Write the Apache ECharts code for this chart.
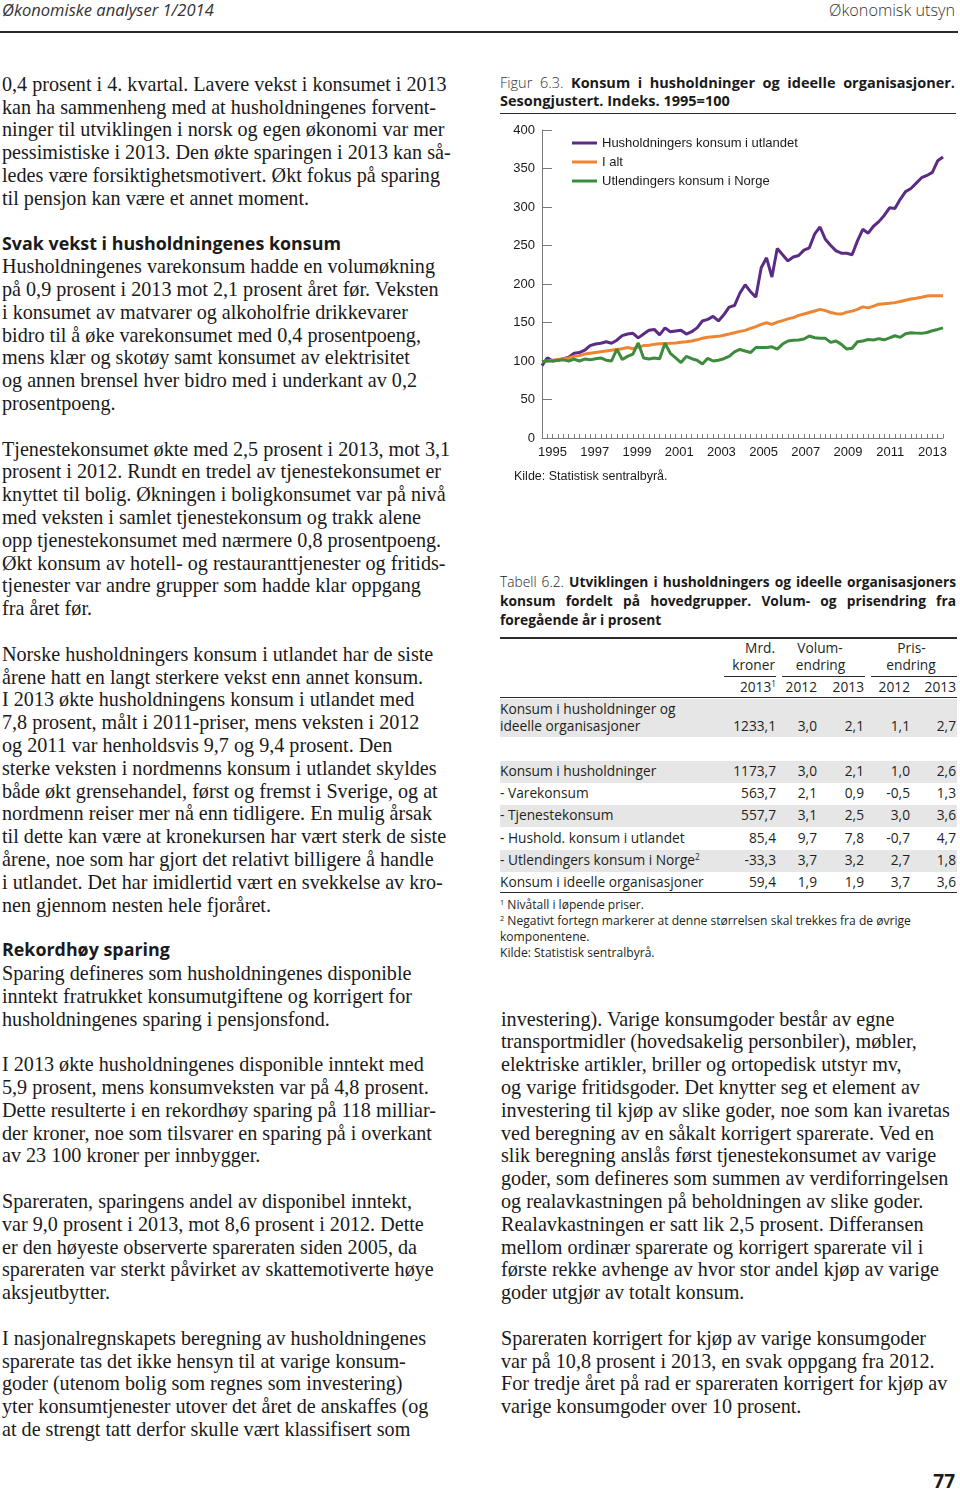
<!DOCTYPE html>
<html>
<head>
<meta charset="utf-8">
<script src="https://cdn.jsdelivr.net/npm/echarts@6/dist/echarts.min.js"></script>
<style>
html,body{margin:0;padding:0;background:#fff;}
body{width:960px;height:1493px;position:relative;overflow:hidden;color:#1a1a1a;}
.t{position:absolute;white-space:nowrap;line-height:1;}
.rule{position:absolute;background:#2b2b2b;}
.shade{position:absolute;background:#e6e6e6;}
sup{font-size:60%;vertical-align:0.55em;line-height:0;}
#chart{position:absolute;left:500px;top:115px;width:460px;height:375px;}
</style>
</head>
<body>
<div id="chart"></div>
<script>
// ---------------- DATA ----------------
const years = ['1995','1996','1997','1998','1999','2000','2001','2002','2003','2004','2005','2006','2007','2008','2009','2010','2011','2012','2013'];
const seriesNames = ['Husholdningers konsum i utlandet','I alt','Utlendingers konsum i Norge'];
const utlandet = [94,104,100,101,103,105,110,111,114,120,122,123,125,123,127,133,135,136,130,135,
  140,141,134,143,138,139,140,135,138,143,152,154,158,152,160,170,172,188,199,190,
  183,221,234,209,246,238,230,235,237,244,247,265,274,258,250,243,240,240,238,256,
  271,266,275,281,289,299,298,310,320,324,331,338,341,345,360,365];
const iAlt = [99,100,101,102,103,104,106,107,109,110,111,112,113,114,115,116,117.5,116,118,120,
  120.5,121.6,122.3,122.7,123,123.5,124.3,125,126,127.5,129.5,130.8,131.5,132,133.5,135,136.7,138.5,139.8,142.3,
  144.7,147.5,149.6,147.5,150.5,152.5,154.7,156.3,159.2,161,163,165,167,165.4,163,161.5,160.9,163.5,164.8,167,
  170.3,169,171.2,173.8,174.5,175,175.8,177.3,179,180.6,181.6,182.9,184.5,184.6,184.6,184.6];
const utlendinger = [99,100,100,101,101.5,100,102.5,100,102.5,101.5,103,104,101,100,115.5,102,106,109,123.5,104,
  102.5,104,103,123,110,104,98,106,103,101,96,103.5,100,101,103,106,112,115,113,111,
  117.5,117.5,117.5,118.5,115.5,122,126,127,127.2,128.5,132.4,130.2,129.5,129.4,124.2,125.9,121.6,115.5,116.5,125,
  126,128,127.2,129,127.5,130,132.8,130.7,135.5,136.7,136.2,135.9,137,139.3,141,143];

// table data
const tabLabels = ['Konsum i husholdninger','- Varekonsum','- Tjenestekonsum','- Hushold. konsum i utlandet','- Utlendingers konsum i Norge<sup>2</sup>','Konsum i ideelle organisasjoner'];
const tabTotal = ['1233,1','3,0','2,1','1,1','2,7'];
const tabMrd   = ['1173,7','563,7','557,7','85,4','-33,3','59,4'];
const tabVol12 = ['3,0','2,1','3,1','9,7','3,7','1,9'];
const tabVol13 = ['2,1','0,9','2,5','7,8','3,2','1,9'];
const tabPri12 = ['1,0','-0,5','3,0','-0,7','2,7','3,7'];
const tabPri13 = ['2,6','1,3','3,6','4,7','1,8','3,6'];

// ---------------- TEXT ----------------
const leftLines = [
'0,4 prosent i 4. kvartal. Lavere vekst i konsumet i 2013',
'kan ha sammenheng med at husholdningenes forvent-',
'ninger til utviklingen i norsk og egen økonomi var mer',
'pessimistiske i 2013. Den økte sparingen i 2013 kan så-',
'ledes være forsiktighetsmotivert. Økt fokus på sparing',
'til pensjon kan være et annet moment.',
'',
'#Svak vekst i husholdningenes konsum',
'Husholdningenes varekonsum hadde en volumøkning',
'på 0,9 prosent i 2013 mot 2,1 prosent året før. Veksten',
'i konsumet av matvarer og alkoholfrie drikkevarer',
'bidro til å øke varekonsumet med 0,4 prosentpoeng,',
'mens klær og skotøy samt konsumet av elektrisitet',
'og annen brensel hver bidro med i underkant av 0,2',
'prosentpoeng.',
'',
'Tjenestekonsumet økte med 2,5 prosent i 2013, mot 3,1',
'prosent i 2012. Rundt en tredel av tjenestekonsumet er',
'knyttet til bolig. Økningen i boligkonsumet var på nivå',
'med veksten i samlet tjenestekonsum og trakk alene',
'opp tjenestekonsumet med nærmere 0,8 prosentpoeng.',
'Økt konsum av hotell- og restauranttjenester og fritids-',
'tjenester var andre grupper som hadde klar oppgang',
'fra året før.',
'',
'Norske husholdningers konsum i utlandet har de siste',
'årene hatt en langt sterkere vekst enn annet konsum.',
'I 2013 økte husholdningens konsum i utlandet med',
'7,8 prosent, målt i 2011-priser, mens veksten i 2012',
'og 2011 var henholdsvis 9,7 og 9,4 prosent. Den',
'sterke veksten i nordmenns konsum i utlandet skyldes',
'både økt grensehandel, først og fremst i Sverige, og at',
'nordmenn reiser mer nå enn tidligere. En mulig årsak',
'til dette kan være at kronekursen har vært sterk de siste',
'årene, noe som har gjort det relativt billigere å handle',
'i utlandet. Det har imidlertid vært en svekkelse av kro-',
'nen gjennom nesten hele fjoråret.',
'',
'#Rekordhøy sparing',
'Sparing defineres som husholdningenes disponible',
'inntekt fratrukket konsumutgiftene og korrigert for',
'husholdningenes sparing i pensjonsfond.',
'',
'I 2013 økte husholdningenes disponible inntekt med',
'5,9 prosent, mens konsumveksten var på 4,8 prosent.',
'Dette resulterte i en rekordhøy sparing på 118 milliar-',
'der kroner, noe som tilsvarer en sparing på i overkant',
'av 23 100 kroner per innbygger.',
'',
'Spareraten, sparingens andel av disponibel inntekt,',
'var 9,0 prosent i 2013, mot 8,6 prosent i 2012. Dette',
'er den høyeste observerte spareraten siden 2005, da',
'spareraten var sterkt påvirket av skattemotiverte høye',
'aksjeutbytter.',
'',
'I nasjonalregnskapets beregning av husholdningenes',
'sparerate tas det ikke hensyn til at varige konsum-',
'goder (utenom bolig som regnes som investering)',
'yter konsumtjenester utover det året de anskaffes (og',
'at de strengt tatt derfor skulle vært klassifisert som'
];
const rightLines = [
'investering). Varige konsumgoder består av egne',
'transportmidler (hovedsakelig personbiler), møbler,',
'elektriske artikler, briller og ortopedisk utstyr mv,',
'og varige fritidsgoder. Det knytter seg et element av',
'investering til kjøp av slike goder, noe som kan ivaretas',
'ved beregning av en såkalt korrigert sparerate. Ved en',
'slik beregning anslås først tjenestekonsumet av varige',
'goder, som defineres som summen av verdiforringelsen',
'og realavkastningen på beholdningen av slike goder.',
'Realavkastningen er satt lik 2,5 prosent. Differansen',
'mellom ordinær sparerate og korrigert sparerate vil i',
'første rekke avhenge av hvor stor andel kjøp av varige',
'goder utgjør av totalt konsum.',
'',
'Spareraten korrigert for kjøp av varige konsumgoder',
'var på 10,8 prosent i 2013, en svak oppgang fra 2012.',
'For tredje året på rad er spareraten korrigert for kjøp av',
'varige konsumgoder over 10 prosent.'
];

// ---------------- HELPERS ----------------
const ctx = document.createElement('canvas').getContext('2d');
function fit(text, font, target){ ctx.font = font.replace('{s}','100'); return 100*target/ctx.measureText(text).width; }
const SERIF = '"Liberation Serif", serif', SANS = '"Open Sans", sans-serif', ARIAL = '"Liberation Sans", Arial, sans-serif';
function txt(html, o){
  const d = document.createElement('div'); d.className='t'; d.innerHTML = html;
  const s = o.size;
  d.style.fontSize = s+'px'; d.style.fontFamily = o.font || SANS;
  if(o.weight) d.style.fontWeight = o.weight;
  if(o.italic) d.style.fontStyle = 'italic';
  if(o.color) d.style.color = o.color;
  d.style.top = (o.y - 0.56*s)+'px';
  if(o.right!==undefined){ d.style.right = (960-o.right)+'px'; d.style.textAlign='right'; }
  else if(o.center!==undefined){ d.style.left=(o.center-100)+'px'; d.style.width='200px'; d.style.textAlign='center'; }
  else d.style.left = o.x+'px';
  if(o.width){ d.style.width=o.width+'px'; d.style.whiteSpace='normal'; d.style.textAlign='justify'; d.style.textAlignLast='justify'; d.style.height=(s*1.05)+'px'; d.style.overflow='visible'; }
  document.body.appendChild(d); return d;
}
function rule(x,y,w,h){ const d=document.createElement('div'); d.className='rule'; d.style.left=x+'px'; d.style.top=y+'px'; d.style.width=w+'px'; d.style.height=h+'px'; document.body.appendChild(d); }
function shade(x,y,w,h){ const d=document.createElement('div'); d.className='shade'; d.style.left=x+'px'; d.style.top=y+'px'; d.style.width=w+'px'; d.style.height=h+'px'; document.body.appendChild(d); }

// ---------------- PAGE HEADER ----------------
const hs = fit('Økonomiske analyser 1/2014', 'italic 400 {s}px "Open Sans"', 212);
txt('Økonomiske analyser 1/2014', {x:2, y:11, size:hs, italic:true, weight:400, color:'#333'});
const hs2 = fit('Økonomisk utsyn', '300 {s}px "Open Sans"', 126);
txt('Økonomisk utsyn', {right:955, y:11, size:hs2, weight:300, color:'#333'});
rule(0,31,958,2);

// ---------------- BODY TEXT ----------------
const bodySize = fit(leftLines[0], '400 {s}px "Liberation Serif"', 445);
const headSize = fit('Svak vekst i husholdningenes konsum', '700 {s}px "Open Sans"', 339);
const LH = 22.8, Y0 = 84;
leftLines.forEach((l,k)=>{
  if(!l) return;
  if(l[0]==='#') txt(l.slice(1), {x:2, y:Y0+k*LH+1, size:headSize, weight:700, font:SANS, color:'#1a1a1a'});
  else txt(l, {x:2, y:Y0+k*LH+1, size:bodySize, font:SERIF, color:'#1a1a1a'});
});
rightLines.forEach((l,k)=>{
  if(!l) return;
  txt(l, {x:501, y:Y0+(41+k)*LH+1, size:bodySize, font:SERIF, color:'#1a1a1a'});
});

// ---------------- FIGURE CAPTION ----------------
const capSize = fit('Sesongjustert. Indeks. 1995=100', '700 {s}px "Open Sans"', 230);
txt('<span style="font-weight:300;color:#333">Figur 6.3.</span> <b>Konsum i husholdninger og ideelle organisasjoner.</b>', {x:500, y:83, size:capSize, width:455});
txt('<b>Sesongjustert. Indeks. 1995=100</b>', {x:500, y:101, size:capSize});
rule(500,113,456,1);
txt('Kilde: Statistisk sentralbyrå.', {x:514, y:477, size:12.5, font:ARIAL, color:'#1a1a1a'});

// ---------------- TABLE ----------------
const tcap = fit('Tabell 6.2. Utviklingen i husholdningers og ideelle organisasjoners', '700 {s}px "Open Sans"', 452);
txt('<span style="font-weight:300">Tabell 6.2.</span> <b>Utviklingen i husholdningers og ideelle organisasjoners</b>', {x:500, y:583, size:tcap, width:456});
txt('<b>konsum fordelt på hovedgrupper. Volum- og prisendring fra</b>', {x:500, y:602, size:tcap, width:456});
txt('<b>foregående år i prosent</b>', {x:500, y:621, size:tcap});
rule(500,637,457,1.5);
const ts = fit('Konsum i ideelle organisasjoner', '400 {s}px "Open Sans"', 204);
const TC = '#231f20';
const colR = [776, 817, 864, 910, 956];
txt('Mrd.', {right:775, y:649, size:ts, color:TC});
txt('kroner', {right:775, y:666, size:ts, color:TC});
txt('Volum-', {center:820, y:649, size:ts, color:TC});
txt('endring', {center:820.5, y:666, size:ts, color:TC});
txt('Pris-', {center:911.5, y:649, size:ts, color:TC});
txt('endring', {center:911, y:666, size:ts, color:TC});
rule(724,676,52,1); rule(782,676,83,1); rule(871,676,86,1);
['2013<sup>1</sup>','2012','2013','2012','2013'].forEach((h,i)=>txt(h,{right:colR[i], y:688, size:ts, color:TC}));
rule(500,697,457,1.2);
shade(500,698.5,457,38.5);
txt('Konsum i husholdninger og', {x:500, y:710, size:ts, color:TC});
txt('ideelle organisasjoner', {x:500, y:727, size:ts, color:TC});
tabTotal.forEach((v,i)=>txt(v,{right:colR[i], y:727, size:ts, color:TC}));
const rowY = [772, 794, 816, 838.5, 861, 883];
rowY.forEach((y,r)=>{
  if(r%2===0) shade(500, y-11.2, 457, 22.3);
});
rowY.forEach((y,r)=>{
  txt(tabLabels[r], {x:500, y:y, size:ts, color:TC});
  [tabMrd,tabVol12,tabVol13,tabPri12,tabPri13].forEach((col,i)=>txt(col[r],{right:colR[i], y:y, size:ts, color:TC}));
});
rule(500,892,457,1.2);
const fs = fit('Negativt fortegn markerer at denne størrelsen skal trekkes fra de øvrige', '400 {s}px "Open Sans"', 404);
txt('<sup>1</sup> Nivåtall i løpende priser.', {x:500, y:906, size:fs, color:TC});
txt('<sup>2</sup> Negativt fortegn markerer at denne størrelsen skal trekkes fra de øvrige', {x:500, y:922, size:fs, color:TC});
txt('komponentene.', {x:500, y:938, size:fs, color:TC});
txt('Kilde: Statistisk sentralbyrå.', {x:500, y:954, size:fs, color:TC});

// page number
txt('77', {right:955, y:1483, size:19, weight:700, color:'#1a1a1a'});

// ---------------- CHART ----------------
const quarterLabels = [];
years.forEach(y=>['K1','K2','K3','K4'].forEach(q=>quarterLabels.push(y+q)));
const COLORS = ['#5b2c86','#ef8431','#3d8b3d'];
const chart = echarts.init(document.getElementById('chart'), null, {renderer:'canvas'});
const axisText = {fontFamily:'Liberation Sans', fontSize:13, color:'#1a1a1a'};
chart.setOption({
  animation:false,
  color: COLORS,
  grid:{left:42, right:17, top:15, bottom:52, containLabel:false},
  legend:{
    orient:'vertical', left:67, top:16, padding:5, icon:'rect', itemWidth:25, itemHeight:3, itemGap:5,
    textStyle:{fontFamily:'Liberation Sans', fontSize:13, color:'#1a1a1a', lineHeight:14},
    data: seriesNames
  },
  xAxis:[
    {type:'category', data:quarterLabels, boundaryGap:false,
     axisLine:{show:true, lineStyle:{color:'#7a7a7a', width:1}},
     axisTick:{show:true, inside:true, length:4, interval:0, lineStyle:{color:'#7a7a7a'}},
     axisLabel:{show:false}, splitLine:{show:false}},
    {type:'category', data:years, boundaryGap:true, position:'bottom', offset:0,
     axisLine:{show:false}, axisTick:{show:false}, splitLine:{show:false},
     axisLabel:Object.assign({interval:1, margin:8}, axisText)}
  ],
  yAxis:{type:'value', min:0, max:400, interval:50,
    axisLine:{show:true, lineStyle:{color:'#7a7a7a', width:1}},
    axisTick:{show:true, inside:true, length:10, lineStyle:{color:'#7a7a7a'}},
    axisLabel:Object.assign({margin:7}, axisText), splitLine:{show:false}},
  series:[
    {name:seriesNames[0], type:'line', xAxisIndex:0, data:utlandet, symbol:'none', lineStyle:{width:3}},
    {name:seriesNames[1], type:'line', xAxisIndex:0, data:iAlt, symbol:'none', lineStyle:{width:3}},
    {name:seriesNames[2], type:'line', xAxisIndex:0, data:utlendinger, symbol:'none', lineStyle:{width:3}}
  ]
});
</script>
</body>
</html>
